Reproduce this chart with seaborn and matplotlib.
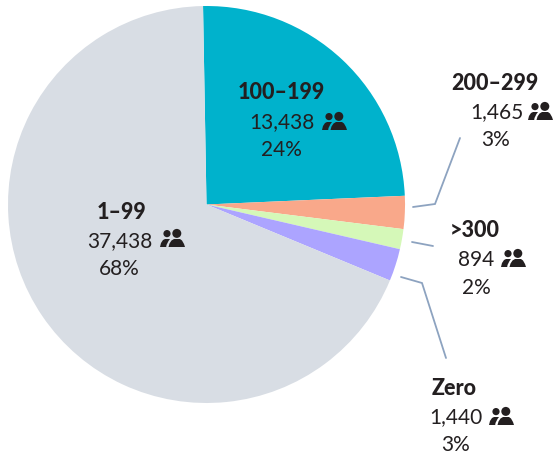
import matplotlib
matplotlib.use("Agg")
import matplotlib.pyplot as plt
from matplotlib.patches import Circle, Polygon
import seaborn as sns

categories = ["100–199", "200–299", ">300", "Zero", "1–99"]
employees = [13438, 1465, 894, 1440, 37438]
percents = ["24%", "3%", "2%", "3%", "68%"]
colors = ["#00B2CC", "#F9A88A", "#D5F8B8", "#ACA4FF", "#D8DDE4"]

W, H = 553, 457
TEXT = "#231F20"
LINE = "#8DA3C0"

sns.set_theme(style="white")
plt.rcParams["font.family"] = ["Lato", "DejaVu Sans"]

fig = plt.figure(figsize=(W / 100, H / 100), dpi=100)
ax = fig.add_axes([0, 0, 1, 1])


def flip(y):
    # everything below is measured from the top of the image
    return H - y


ax.pie(
    employees,
    colors=sns.color_palette(colors),
    startangle=91,
    counterclock=False,
    center=(206.5, flip(204.5)),
    radius=198.5,
    frame=True,
    wedgeprops={"linewidth": 0, "edgecolor": "none"},
)
ax.set_xlim(0, W)
ax.set_ylim(0, H)
ax.set_aspect("equal")
ax.set_axis_off()


def people(x, y):
    # x, y = top left of the icon, 24x18 px
    def pts(p):
        return [(x + a, flip(y + b)) for a, b in p]

    ax.add_patch(Circle((x + 7, flip(y + 4.6)), 3.6, color=TEXT, lw=0))
    ax.add_patch(Circle((x + 16.8, flip(y + 4.4)), 4.5, color=TEXT, lw=0))
    ax.add_patch(Polygon(pts([(0, 18), (1, 14), (3, 11), (5, 10), (10, 10),
                              (8.5, 12), (6.5, 16), (6.2, 18)]), color=TEXT, lw=0))
    ax.add_patch(Polygon(pts([(8.5, 18), (9.5, 14.5), (11.5, 11.5), (14, 10), (20, 10),
                              (22, 11.5), (24, 15), (25, 18)]), color=TEXT, lw=0))


# name x/baseline, count x/baseline, share x/baseline, icon x/y
labels = {
    "100–199": ((238, 99), (249, 128), (261, 156), (322, 112)),
    "200–299": ((451, 90), (470, 118), (481, 146), (528, 102)),
    ">300": ((450, 237), (458, 266), (462, 294), (501, 249)),
    "Zero": ((432, 395), (429, 423), (441, 451), (489, 407)),
    "1–99": ((97, 219), (87, 247), (99, 275), (160, 229)),
}

for cat, n, pct in zip(categories, employees, percents):
    name_pos, count_pos, pct_pos, icon_pos = labels[cat]
    ax.text(name_pos[0], flip(name_pos[1]), cat, fontsize=15.5, fontweight="black",
            color=TEXT, va="baseline", ha="left")
    ax.text(count_pos[0], flip(count_pos[1]), f"{n:,}", fontsize=15, fontweight="normal",
            color=TEXT, va="baseline", ha="left")
    ax.text(pct_pos[0], flip(pct_pos[1]), pct, fontsize=15, fontweight="normal",
            color=TEXT, va="baseline", ha="left")
    people(*icon_pos)

# Leader lines
leaders = [
    [(413, 207), (435, 204), (460, 138)],
    [(412, 242), (433, 246)],
    [(401, 277), (422, 283), (446, 358)],
]
for pts in leaders:
    ax.plot([p[0] for p in pts], [flip(p[1]) for p in pts], color=LINE, lw=1.3,
            solid_joinstyle="miter")

fig.savefig("out.png", dpi=100)
